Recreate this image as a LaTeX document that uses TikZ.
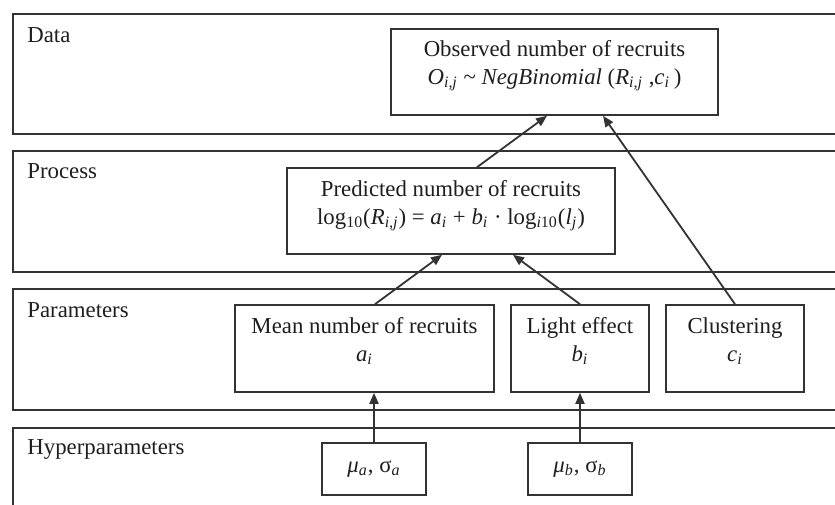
\documentclass[tikz,border=0pt]{standalone}
\usepackage{fontspec}
\setmainfont{Liberation Serif}
\usepackage{xcolor}
\usepackage{tikz}
\usetikzlibrary{arrows.meta,positioning}
\definecolor{hmline}{HTML}{333333}
\definecolor{hmtext}{HTML}{1E1E1E}
\newcommand\hsub[1]{\textsubscript{\textit{#1}}}
\tikzset{
  hm band/.style={
    rectangle,
    anchor=north west,
    minimum width=425pt,
    line width=0.9pt,
    draw=hmline,
    inner sep=0pt,
  },
  hm label/.style={
    anchor=base west,
    inner sep=0pt,
    text=hmtext,
  },
  hm box/.style={
    rectangle,
    line width=0.8pt,
    draw=hmline,
    fill=white,
    minimum height=43pt,
    inner sep=0pt,
  },
  hm text/.style={
    anchor=base,
    align=center,
    inner sep=0pt,
    text=hmtext,
  },
  hm small/.style={
    hm box,
    minimum width=52pt,
    minimum height=26pt,
    text=hmtext,
  },
  hm arrow/.style={-{Triangle[length=5.5pt,width=4.5pt]}, line width=0.9pt, draw=hmline},
}

\begin{document}
\begin{tikzpicture}[x=0.5pt,y=-0.5pt,font=\fontsize{11.4}{14}\selectfont]
  \useasboundingbox (0,0) rectangle (835,504);
  \clip (0,0) rectangle (835,504);

  \node[hm band,minimum height=60pt] (data) at (12,13) {};
  \node[hm band,minimum height=60.5pt] (process) at (12,150) {};
  \node[hm band,minimum height=60.5pt] (params) at (12,288) {};
  \node[hm band,minimum height=60pt] (hyper) at (12,427) {};

  \node[hm label] (data_l) at ([xshift=7.5pt,yshift=-14.5pt]data.north west) {Data};
  \node[hm label] (process_l) at ([xshift=7.5pt,yshift=-14pt]process.north west) {Process};
  \node[hm label] (params_l) at ([xshift=7.5pt,yshift=-14.5pt]params.north west) {Parameters};
  \node[hm label] (hyper_l) at ([xshift=7.5pt,yshift=-13.5pt]hyper.north west) {Hyperparameters};

  % the base of a two-line text is its second line
  \node[hm box,minimum width=163.5pt] (obs) at (554.5,72) {};
  \node[hm text,below=28pt of obs.north,anchor=base] (obs_t)
    {Observed number of recruits\\
     \textit{O}\hsub{i,j} \textasciitilde{} \textit{NegBinomial} (\textit{R}\hsub{i,j} ,\textit{c}\hsub{i}\,)};

  \node[hm box,minimum width=164pt] (pred) at (451,211) {};
  \node[hm text,below=28.5pt of pred.north,anchor=base] (pred_t)
    {Predicted number of recruits\\
     log\textsubscript{10}(\textit{R}\hsub{i,j}) = \textit{a}\hsub{i} + \textit{b}\hsub{i} · log\textsubscript{\textit{i}10}(\textit{l}\hsub{j})};

  \node[hm box,minimum width=129.5pt,minimum height=43.5pt] (mean) at (364.5,348.5) {};
  \node[hm text,below=28.5pt of mean.north,anchor=base] (mean_t) {Mean number of recruits\\ \textit{a}\hsub{i}};

  \node[hm box,minimum width=69pt,minimum height=43.5pt] (light) at (580,348.5) {};
  \node[hm text,below=28.5pt of light.north,anchor=base] (light_t) {Light effect\\ \textit{b}\hsub{i}};

  \node[hm box,minimum width=69pt,minimum height=43.5pt] (clust) at (735,348.5) {};
  \node[hm text,below=28.5pt of clust.north,anchor=base] (clust_t) {Clustering\\ \textit{c}\hsub{i}};

  \node[hm small] (mua) at (374,469) {\textit{μ}\hsub{a}, σ\hsub{a}};
  \node[hm small] (mub) at (580,469) {\textit{μ}\hsub{b}, σ\hsub{b}};

  \draw[hm arrow] ([xshift=13pt]pred.north) -- ([xshift=-3.75pt]obs.south);
  \draw[hm arrow] (clust.north) -- ([xshift=24.25pt]obs.south);
  \draw[hm arrow] ([xshift=5.25pt]mean.north) -- ([xshift=-4.5pt]pred.south);
  \draw[hm arrow] (light.north) -- ([xshift=31pt]pred.south);
  \draw[hm arrow] (mua.north) -- (mua.north |- mean.south);
  \draw[hm arrow] (mub.north) -- (light.south);
\end{tikzpicture}
\end{document}
